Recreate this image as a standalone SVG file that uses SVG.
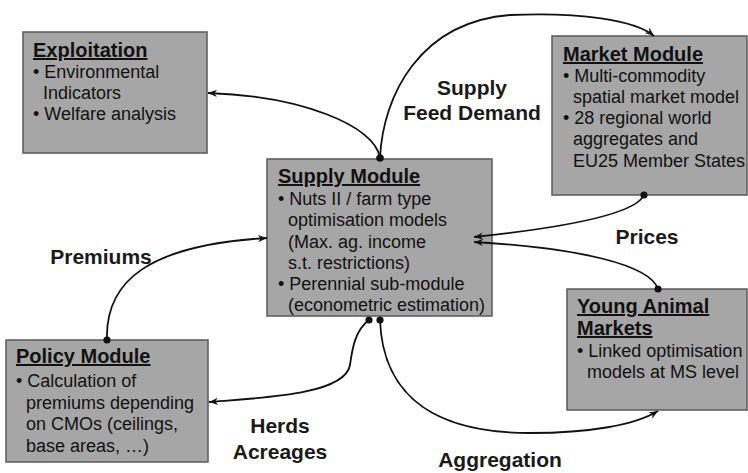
<svg xmlns="http://www.w3.org/2000/svg" width="748" height="473" viewBox="0 0 748 473">
<style>
.box{fill:#a6a6a6;stroke:#5a5a5a;stroke-width:1.5}
.t{font-family:"Liberation Sans",Arial,sans-serif;font-size:20px;font-weight:bold;fill:#111;text-decoration:underline}
.b{font-family:"Liberation Sans",Arial,sans-serif;font-size:18px;fill:#111}
.lbl{font-family:"Liberation Sans",Arial,sans-serif;font-size:21px;font-weight:bold;fill:#1a1a1a;text-anchor:middle}
.c{fill:none;stroke:#111;stroke-width:1.8;marker-start:url(#dot);marker-end:url(#arr)}
</style>
<defs>
<marker id="arr" viewBox="0 0 10 10" refX="10" refY="5" markerWidth="10" markerHeight="9" markerUnits="userSpaceOnUse" orient="auto">
<path d="M0,1 L10,5 L0,9 L3,5 z" fill="#111"/>
</marker>
<marker id="dot" viewBox="0 0 10 10" refX="5" refY="5" markerWidth="8" markerHeight="8" markerUnits="userSpaceOnUse">
<circle cx="5" cy="5" r="4.5" fill="#111"/>
</marker>
</defs>

<g id="exploitation">
<rect class="box" x="23" y="32" width="184" height="121"/>
<text class="t" x="33" y="57">Exploitation</text>
<text class="b" x="33" y="78">• Environmental</text>
<text class="b" x="43" y="99">Indicators</text>
<text class="b" x="33" y="120">• Welfare analysis</text>
</g>

<g id="market">
<rect class="box" x="552" y="36" width="195" height="159"/>
<text class="t" x="563" y="61">Market Module</text>
<text class="b" x="563" y="82">• Multi-commodity</text>
<text class="b" x="573" y="103">spatial market model</text>
<text class="b" x="563" y="124">• 28 regional world</text>
<text class="b" x="573" y="145">aggregates and</text>
<text class="b" x="573" y="167">EU25 Member States</text>
</g>

<g id="supply">
<rect class="box" x="267" y="159" width="225" height="157"/>
<text class="t" x="278" y="183">Supply Module</text>
<text class="b" x="278" y="205">• Nuts II / farm type</text>
<text class="b" x="288" y="226">optimisation models</text>
<text class="b" x="288" y="248">(Max. ag. income</text>
<text class="b" x="288" y="269">s.t. restrictions)</text>
<text class="b" x="278" y="290">• Perennial sub-module</text>
<text class="b" x="288" y="311">(econometric estimation)</text>
</g>

<g id="policy">
<rect class="box" x="6" y="340" width="202" height="122"/>
<text class="t" x="16" y="363">Policy Module</text>
<text class="b" x="16" y="387">• Calculation of</text>
<text class="b" x="26" y="409">premiums depending</text>
<text class="b" x="26" y="430">on CMOs (ceilings,</text>
<text class="b" x="26" y="452">base areas, …)</text>
</g>

<g id="young">
<rect class="box" x="567" y="289" width="180" height="121"/>
<text class="t" x="577" y="313">Young Animal</text>
<text class="t" x="577" y="335">Markets</text>
<text class="b" x="577" y="357">• Linked optimisation</text>
<text class="b" x="587" y="378">models at MS level</text>
</g>

<g id="connectors">
<path class="c" d="M380,158 C375,125 300,96 208,93"/>
<path class="c" d="M380,158 C383,95 420,22 510,15 C580,12 635,20 654,36"/>
<path class="c" d="M644,195 C635,215 560,228 474,237"/>
<path class="c" d="M658,289 C650,265 580,248 474,242"/>
<path class="c" d="M107,340 C105,280 150,245 267,238"/>
<path class="c" d="M369,320 C355,330 352,350 350,365 C345,395 260,398 209,402"/>
<path class="c" d="M380,320 C383,400 440,433 530,433 C590,433 635,425 658,411"/>
</g>

<g id="labels">
<text class="lbl" x="472" y="95">Supply</text>
<text class="lbl" x="472" y="120">Feed Demand</text>
<text class="lbl" x="647" y="244">Prices</text>
<text class="lbl" x="101" y="264">Premiums</text>
<text class="lbl" x="280" y="433">Herds</text>
<text class="lbl" x="280" y="459">Acreages</text>
<text class="lbl" x="500" y="467">Aggregation</text>
</g>
</svg>
